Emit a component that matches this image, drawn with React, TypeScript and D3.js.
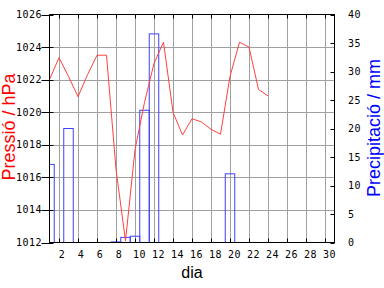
import React from "react";
import * as d3 from "d3";

const days: number[] = [1,2,3,4,5,6,7,8,9,10,11,12,13,14,15,16,17,18,19,20,21,22,23,24];
const pressure: number[] = [1022.0,1023.35,1022.2,1020.95,1022.3,1023.5,1023.5,1016.5,1012.1,1017.7,1020.6,1023.0,1024.3,1020.0,1018.6,1019.6,1019.4,1018.95,1018.65,1022.2,1024.3,1024.0,1021.4,1021.0];
const precipDays: number[] = [1,3,8,9,10,11,12,20];
const precipValues: number[] = [13.7,20.0,0.1,0.9,1.1,23.2,36.6,12.05];
const xTicks: number[] = [2,4,6,8,10,12,14,16,18,20,22,24,26,28,30];
const pTicks: number[] = [1012,1014,1016,1018,1020,1022,1024,1026];
const rTicks: number[] = [0,5,10,15,20,25,30,35,40];

const W = 384, H = 288;
const L = 49.5, R = 334.5, T = 14.5, B = 242.5;

export default function App() {
  const x = d3.scaleLinear().domain([1, 31]).range([L, R]);
  const yP = d3.scaleLinear().domain([1012, 1026]).range([B, T]);
  const yR = d3.scaleLinear().domain([0, 40]).range([B, T]);
  const line = d3.line<number>().x((_, i) => x(days[i])).y(d => yP(d));
  const mono = "'DejaVu Sans Mono', monospace";
  const sans = "'Liberation Sans', Arial, sans-serif";
  return (
    <svg width={W} height={H} style={{ position: "absolute", left: 0, top: 0, background: "#fff" }}>
      <defs>
        <clipPath id="plot"><rect x={L} y={T} width={R - L} height={B - T} /></clipPath>
      </defs>
      <rect x={0} y={0} width={W} height={H} fill="#fff" />
      {xTicks.map(t => (
        <line key={"gx" + t} x1={Math.round(x(t)) + 0.5} x2={Math.round(x(t)) + 0.5} y1={T} y2={B} stroke="#a0a0a0" strokeWidth={1} />
      ))}
      {pTicks.slice(1, -1).map(t => (
        <line key={"gy" + t} x1={L} x2={R} y1={Math.round(yP(t)) + 0.5} y2={Math.round(yP(t)) + 0.5} stroke="#a0a0a0" strokeWidth={1} />
      ))}
      <g clipPath="url(#plot)">
        {precipDays.map((d, i) => (
          <rect key={"b" + d} x={x(d - 0.5)} y={yR(precipValues[i])} width={x(d + 0.5) - x(d - 0.5)} height={B - yR(precipValues[i])} fill="none" stroke="#4040ff" strokeWidth={1} />
        ))}
        <path d={line(pressure) || ""} fill="none" stroke="#ff4040" strokeWidth={1} />
      </g>
      <rect x={L} y={T} width={R - L} height={B - T} fill="none" stroke="#000" strokeWidth={1} />
      {pTicks.map(t => (
        <g key={"lt" + t}>
          <line x1={L - 8} x2={L + 4} y1={Math.round(yP(t)) + 0.5} y2={Math.round(yP(t)) + 0.5} stroke="#000" />
          <text x={42} y={yP(t) + 3.5} textAnchor="end" fontFamily={mono} fontSize={10} letterSpacing={0.5} fill="#000">{t}</text>
        </g>
      ))}
      {rTicks.map(t => (
        <g key={"rt" + t}>
          <line x1={R - 4} x2={R} y1={Math.round(yR(t)) + 0.5} y2={Math.round(yR(t)) + 0.5} stroke="#000" />
          <text x={348} y={yR(t) + 3.5} textAnchor="start" fontFamily={mono} fontSize={10} letterSpacing={0.5} fill="#000">{t}</text>
        </g>
      ))}
      {xTicks.map(t => (
        <g key={"xt" + t}>
          <line x1={Math.round(x(t)) + 0.5} x2={Math.round(x(t)) + 0.5} y1={B} y2={B - 4} stroke="#000" />
          <line x1={Math.round(x(t)) + 0.5} x2={Math.round(x(t)) + 0.5} y1={T} y2={T + 4} stroke="#000" />
          <text x={x(t) + (String(t).length === 1 ? 3 : 4.5)} y={257.5} textAnchor="middle" fontFamily={mono} fontSize={10} letterSpacing={0.5} fill="#000">{t}</text>
        </g>
      ))}
      <text x={192} y={278} textAnchor="middle" fontFamily={sans} fontSize={16} fill="#000">dia</text>
      <text transform={`translate(15,127) rotate(-90)`} textAnchor="middle" fontFamily={sans} fontSize={18} fill="#ff0000">Pressió / hPa</text>
      <text transform={`translate(380,128) rotate(-90)`} textAnchor="middle" fontFamily={sans} fontSize={18} fill="#0000ff">Precipitació / mm</text>
    </svg>
  );
}
